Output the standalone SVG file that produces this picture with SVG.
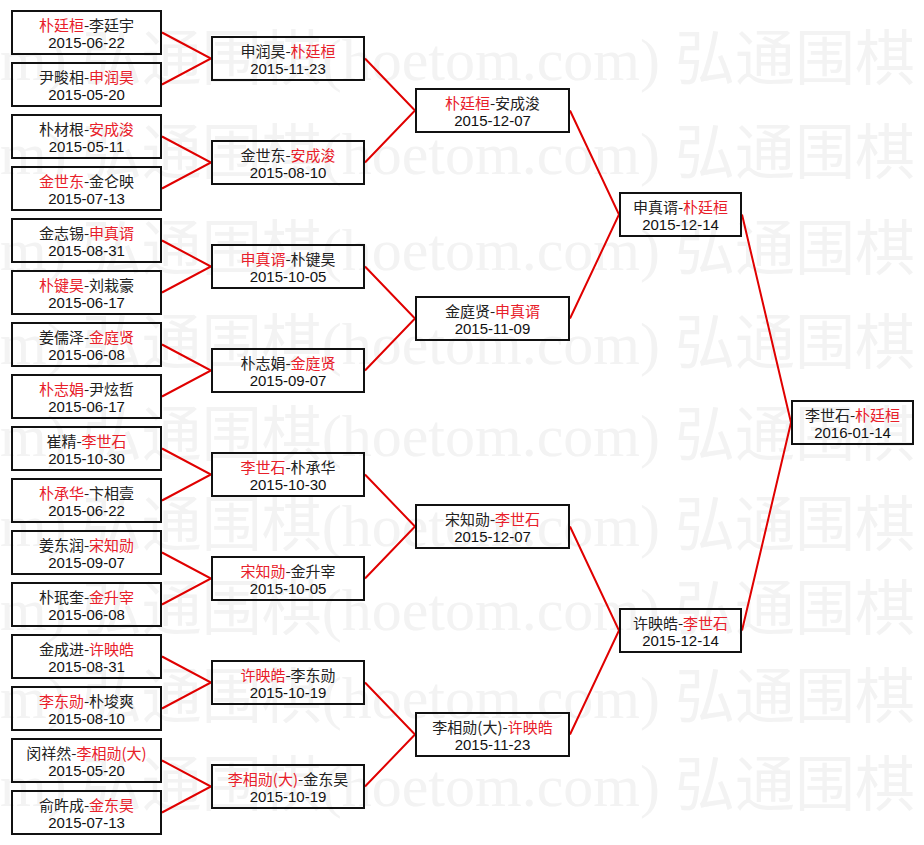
<svg xmlns="http://www.w3.org/2000/svg" xmlns:xlink="http://www.w3.org/1999/xlink" width="924" height="845" viewBox="0 0 924 845">
<style>
.bg{fill:#ffffff}
.wm{font-family:"Liberation Serif","Noto Sans CJK SC",serif;font-size:60px;fill:#f3f3f3}
.box rect{fill:none;stroke:#111;stroke-width:2}
.n{font-family:"Noto Sans CJK SC","Liberation Sans",sans-serif;font-size:15px;fill:#222;text-anchor:middle}
.d{font-family:"Liberation Sans","Noto Sans CJK SC",sans-serif;font-size:15px;fill:#111;text-anchor:middle}
.r{fill:#e8202a}
#connectors path{fill:none;stroke:#e00000;stroke-width:2}
</style>
<defs>
<text id="wmrow" class="wm" x="915" y="0" text-anchor="end">弘通围棋(hoetom.com) 弘通围棋(hoetom.com) 弘通围棋</text>
</defs>
<rect class="bg" x="0" y="0" width="924" height="845"/>
<g id="watermark">
<use xlink:href="#wmrow" y="80"/>
<use xlink:href="#wmrow" y="174"/>
<use xlink:href="#wmrow" y="270"/>
<use xlink:href="#wmrow" y="364"/>
<use xlink:href="#wmrow" y="456"/>
<use xlink:href="#wmrow" y="546"/>
<use xlink:href="#wmrow" y="630"/>
<use xlink:href="#wmrow" y="718"/>
<use xlink:href="#wmrow" y="806"/>
</g>
<g id="connectors">
<path d="M162 32.5L211 58.5L162 84.5"/>
<path d="M162 136.5L211 162.5L162 188.5"/>
<path d="M162 240.5L211 266.5L162 292.5"/>
<path d="M162 344.5L211 370.5L162 396.5"/>
<path d="M162 448.5L211 474.5L162 500.5"/>
<path d="M162 552.5L211 578.5L162 604.5"/>
<path d="M162 656.5L211 682.5L162 708.5"/>
<path d="M162 760.5L211 786.5L162 812.5"/>
<path d="M365 58.5L415 110.5L365 162.5"/>
<path d="M365 266.5L415 318.5L365 370.5"/>
<path d="M365 474.5L415 526.5L365 578.5"/>
<path d="M365 682.5L415 734.5L365 786.5"/>
<path d="M570 110.5L619 214.5L570 318.5"/>
<path d="M570 526.5L619 630.5L570 734.5"/>
<path d="M742 214.5L791 422.5L742 630.5"/>
</g>
<!-- Round 1 -->
<g id="r1-1" class="box"><rect x="12" y="11" width="149" height="43"/><text class="n" x="86.5" y="31"><tspan class="r">朴廷桓</tspan>-李廷宇</text><text class="d" x="86.5" y="48">2015-06-22</text></g>
<g id="r1-2" class="box"><rect x="12" y="63" width="149" height="43"/><text class="n" x="86.5" y="83">尹畯相-<tspan class="r">申润昊</tspan></text><text class="d" x="86.5" y="100">2015-05-20</text></g>
<g id="r1-3" class="box"><rect x="12" y="115" width="149" height="43"/><text class="n" x="86.5" y="135">朴材根-<tspan class="r">安成浚</tspan></text><text class="d" x="86.5" y="152">2015-05-11</text></g>
<g id="r1-4" class="box"><rect x="12" y="167" width="149" height="43"/><text class="n" x="86.5" y="187"><tspan class="r">金世东</tspan>-金仑映</text><text class="d" x="86.5" y="204">2015-07-13</text></g>
<g id="r1-5" class="box"><rect x="12" y="219" width="149" height="43"/><text class="n" x="86.5" y="239">金志锡-<tspan class="r">申真谞</tspan></text><text class="d" x="86.5" y="256">2015-08-31</text></g>
<g id="r1-6" class="box"><rect x="12" y="271" width="149" height="43"/><text class="n" x="86.5" y="291"><tspan class="r">朴键昊</tspan>-刘栽豪</text><text class="d" x="86.5" y="308">2015-06-17</text></g>
<g id="r1-7" class="box"><rect x="12" y="323" width="149" height="43"/><text class="n" x="86.5" y="343">姜儒泽-<tspan class="r">金庭贤</tspan></text><text class="d" x="86.5" y="360">2015-06-08</text></g>
<g id="r1-8" class="box"><rect x="12" y="375" width="149" height="43"/><text class="n" x="86.5" y="395"><tspan class="r">朴志娟</tspan>-尹炫哲</text><text class="d" x="86.5" y="412">2015-06-17</text></g>
<g id="r1-9" class="box"><rect x="12" y="427" width="149" height="43"/><text class="n" x="86.5" y="447">崔精-<tspan class="r">李世石</tspan></text><text class="d" x="86.5" y="464">2015-10-30</text></g>
<g id="r1-10" class="box"><rect x="12" y="479" width="149" height="43"/><text class="n" x="86.5" y="499"><tspan class="r">朴承华</tspan>-卞相壹</text><text class="d" x="86.5" y="516">2015-06-22</text></g>
<g id="r1-11" class="box"><rect x="12" y="531" width="149" height="43"/><text class="n" x="86.5" y="551">姜东润-<tspan class="r">宋知勋</tspan></text><text class="d" x="86.5" y="568">2015-09-07</text></g>
<g id="r1-12" class="box"><rect x="12" y="583" width="149" height="43"/><text class="n" x="86.5" y="603">朴珉奎-<tspan class="r">金升宰</tspan></text><text class="d" x="86.5" y="620">2015-06-08</text></g>
<g id="r1-13" class="box"><rect x="12" y="635" width="149" height="43"/><text class="n" x="86.5" y="655">金成进-<tspan class="r">许映皓</tspan></text><text class="d" x="86.5" y="672">2015-08-31</text></g>
<g id="r1-14" class="box"><rect x="12" y="687" width="149" height="43"/><text class="n" x="86.5" y="707"><tspan class="r">李东勋</tspan>-朴埈爽</text><text class="d" x="86.5" y="724">2015-08-10</text></g>
<g id="r1-15" class="box"><rect x="12" y="739" width="149" height="43"/><text class="n" x="86.5" y="759">闵祥然-<tspan class="r">李相勋(大)</tspan></text><text class="d" x="86.5" y="776">2015-05-20</text></g>
<g id="r1-16" class="box"><rect x="12" y="791" width="149" height="43"/><text class="n" x="86.5" y="811">俞旿成-<tspan class="r">金东昊</tspan></text><text class="d" x="86.5" y="828">2015-07-13</text></g>
<!-- Round 2 -->
<g id="r2-1" class="box"><rect x="212" y="37" width="152" height="43"/><text class="n" x="288" y="57">申润昊-<tspan class="r">朴廷桓</tspan></text><text class="d" x="288" y="74">2015-11-23</text></g>
<g id="r2-2" class="box"><rect x="212" y="141" width="152" height="43"/><text class="n" x="288" y="161">金世东-<tspan class="r">安成浚</tspan></text><text class="d" x="288" y="178">2015-08-10</text></g>
<g id="r2-3" class="box"><rect x="212" y="245" width="152" height="43"/><text class="n" x="288" y="265"><tspan class="r">申真谞</tspan>-朴键昊</text><text class="d" x="288" y="282">2015-10-05</text></g>
<g id="r2-4" class="box"><rect x="212" y="349" width="152" height="43"/><text class="n" x="288" y="369">朴志娟-<tspan class="r">金庭贤</tspan></text><text class="d" x="288" y="386">2015-09-07</text></g>
<g id="r2-5" class="box"><rect x="212" y="453" width="152" height="43"/><text class="n" x="288" y="473"><tspan class="r">李世石</tspan>-朴承华</text><text class="d" x="288" y="490">2015-10-30</text></g>
<g id="r2-6" class="box"><rect x="212" y="557" width="152" height="43"/><text class="n" x="288" y="577"><tspan class="r">宋知勋</tspan>-金升宰</text><text class="d" x="288" y="594">2015-10-05</text></g>
<g id="r2-7" class="box"><rect x="212" y="661" width="152" height="43"/><text class="n" x="288" y="681"><tspan class="r">许映皓</tspan>-李东勋</text><text class="d" x="288" y="698">2015-10-19</text></g>
<g id="r2-8" class="box"><rect x="212" y="765" width="152" height="43"/><text class="n" x="288" y="785"><tspan class="r">李相勋(大)</tspan>-金东昊</text><text class="d" x="288" y="802">2015-10-19</text></g>
<!-- Round 3 -->
<g id="r3-1" class="box"><rect x="416" y="89" width="153" height="43"/><text class="n" x="492.5" y="109"><tspan class="r">朴廷桓</tspan>-安成浚</text><text class="d" x="492.5" y="126">2015-12-07</text></g>
<g id="r3-2" class="box"><rect x="416" y="297" width="153" height="43"/><text class="n" x="492.5" y="317">金庭贤-<tspan class="r">申真谞</tspan></text><text class="d" x="492.5" y="334">2015-11-09</text></g>
<g id="r3-3" class="box"><rect x="416" y="505" width="153" height="43"/><text class="n" x="492.5" y="525">宋知勋-<tspan class="r">李世石</tspan></text><text class="d" x="492.5" y="542">2015-12-07</text></g>
<g id="r3-4" class="box"><rect x="416" y="713" width="153" height="43"/><text class="n" x="492.5" y="733">李相勋(大)-<tspan class="r">许映皓</tspan></text><text class="d" x="492.5" y="750">2015-11-23</text></g>
<!-- Round 4 -->
<g id="r4-1" class="box"><rect x="620" y="193" width="121" height="43"/><text class="n" x="680.5" y="213">申真谞-<tspan class="r">朴廷桓</tspan></text><text class="d" x="680.5" y="230">2015-12-14</text></g>
<g id="r4-2" class="box"><rect x="620" y="609" width="121" height="43"/><text class="n" x="680.5" y="629">许映皓-<tspan class="r">李世石</tspan></text><text class="d" x="680.5" y="646">2015-12-14</text></g>
<!-- Final -->
<g id="r5-1" class="box"><rect x="792" y="401" width="121" height="43"/><text class="n" x="852.5" y="421">李世石-<tspan class="r">朴廷桓</tspan></text><text class="d" x="852.5" y="438">2016-01-14</text></g>
</svg>
